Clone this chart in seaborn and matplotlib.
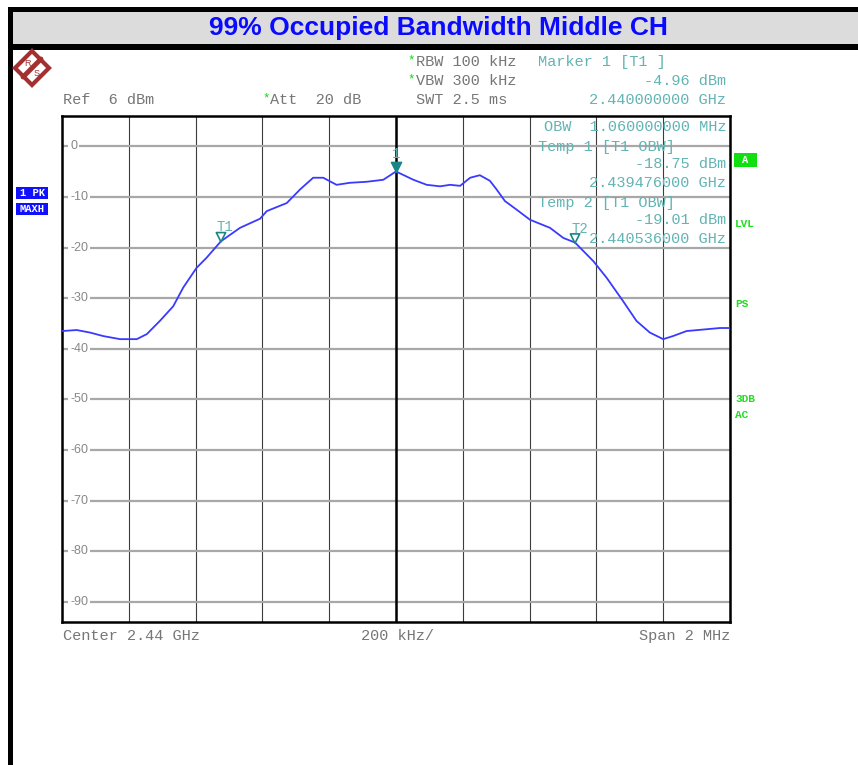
import numpy as np
import matplotlib
matplotlib.use("Agg")
import matplotlib.pyplot as plt
import matplotlib.transforms as mtransforms
from matplotlib.patches import Rectangle, Polygon
import seaborn as sns

# trace: offset from centre (MHz) and level (dBm)
offset_mhz = [-1.0, -0.956, -0.916, -0.876, -0.826, -0.776, -0.746, -0.707, -0.667,
              -0.637, -0.597, -0.567, -0.524, -0.467, -0.407, -0.387, -0.327, -0.287,
              -0.248, -0.218, -0.178, -0.138, -0.088, -0.038, 0.0, 0.052, 0.092,
              0.132, 0.162, 0.192, 0.222, 0.251, 0.281, 0.301, 0.326, 0.361, 0.401,
              0.461, 0.501, 0.536, 0.591, 0.631, 0.680, 0.720, 0.760, 0.800, 0.829,
              0.870, 0.920, 0.970, 1.0]
level_dbm = [-36.5, -36.3, -36.8, -37.5, -38.1, -38.1, -37.1, -34.5, -31.6,
             -27.9, -24.0, -22.0, -18.75, -16.1, -14.3, -12.8, -11.2, -8.5,
             -6.2, -6.2, -7.6, -7.2, -7.0, -6.6, -4.96, -6.6, -7.6,
             -7.9, -7.6, -7.8, -6.2, -5.7, -6.8, -8.5, -10.8, -12.5, -14.5,
             -16.1, -18.1, -19.01, -22.7, -26.0, -30.6, -34.5, -36.8, -38.1, -37.5,
             -36.5, -36.2, -35.9, -35.9]

center_ghz = 2.44
span_ghz = 0.002
ref_level = 6
y_labels = [0, -10, -20, -30, -40, -50, -60, -70, -80, -90]

# markers
marker_names = ["1", "T1", "T2"]
marker_freq = [2.440000, 2.439476, 2.440536]
marker_level = [-4.96, -18.75, -19.01]

title = "99% Occupied Bandwidth Middle CH"

W, H = 858, 765
def px(x, y):
    return x / W, 1 - y / H

freq = [center_ghz + o / 1000 for o in offset_mhz]

sns.set_style("white")
plt.rcParams["font.family"] = ["Liberation Sans", "DejaVu Sans"]

fig = plt.figure(figsize=(W / 100, H / 100), dpi=100)
fig.patch.set_facecolor("white")

# frame and title band
fig.add_artist(Rectangle(px(8, 765), 5 / W, 758 / H, transform=fig.transFigure, color="black", lw=0))
fig.add_artist(Rectangle(px(8, 12), 850 / W, 5 / H, transform=fig.transFigure, color="black", lw=0))
fig.add_artist(Rectangle(px(13, 44), 845 / W, 32 / H, transform=fig.transFigure, color="#dcdcdc", lw=0))
fig.add_artist(Rectangle(px(8, 50), 850 / W, 6 / H, transform=fig.transFigure, color="black", lw=0))
fig.text(*px(438, 28), title, ha="center", va="center", fontsize=19,
         fontweight="bold", color="#0a0aff")

# R&S logo
red = "#a33030"
cx, cy, r = 32, 68, 17
diamond = [px(cx, cy - r), px(cx + r, cy), px(cx, cy + r), px(cx - r, cy)]
fig.add_artist(Polygon(diamond, closed=True, transform=fig.transFigure,
                       fill=False, edgecolor=red, lw=3))
a, b = px(cx + 9, cy - 9), px(cx - 9, cy + 9)
fig.add_artist(plt.Line2D([a[0], b[0]], [a[1], b[1]], transform=fig.transFigure,
                          color=red, lw=3.5))
fig.text(*px(cx - 5, cy - 5), "R", fontsize=6.5, color=red, ha="center", va="center")
fig.text(*px(cx + 5, cy + 5), "S", fontsize=6.5, color=red, ha="center", va="center")

ax = fig.add_axes([62 / W, 1 - 622 / H, 668 / W, 506 / H])

sns.lineplot(x=freq, y=level_dbm, ax=ax, color="#3a3aff", lw=1.3, zorder=5)

ax.set_xlim(center_ghz - span_ghz / 2, center_ghz + span_ghz / 2)
ax.set_ylim(ref_level - 100, ref_level)
ax.set_xticks(np.linspace(center_ghz - span_ghz / 2, center_ghz + span_ghz / 2, 11))
ax.set_yticks([])
ax.tick_params(length=0, labelbottom=False, labelleft=False)
ax.grid(True, axis="x", color="#3c3c3c", lw=0.8)
ax.axvline(center_ghz, color="black", lw=1.8, zorder=3)
for s in ax.spines.values():
    s.set_color("black")
    s.set_linewidth(1.8)

trans_lbl = mtransforms.blended_transform_factory(ax.transAxes, ax.transData)
for yv in y_labels:
    ax.axhline(yv, color="#a8a8a8", lw=1.6, zorder=1)
    ax.text(0.012, yv, str(yv), transform=trans_lbl, ha="left", va="center",
            fontsize=9, color="#888888", zorder=2,
            bbox=dict(facecolor="white", edgecolor="none", pad=1.2))

# markers
teal = "#62b4b4"
up = mtransforms.offset_copy(ax.transData, fig=fig, y=4, units="dots")
ax.scatter([marker_freq[0]], [marker_level[0]], marker="v", s=55, color="#1a8585",
           transform=up, zorder=6)
ax.annotate(marker_names[0], (marker_freq[0], marker_level[0]), xytext=(0, 17),
            textcoords="offset pixels", ha="center", va="center", fontsize=10,
            color=teal, family="Liberation Mono")
for name, f, lv, dx in zip(marker_names[1:], marker_freq[1:], marker_level[1:], [4, 5]):
    ax.scatter([f], [lv], marker="v", s=45, facecolor="none", edgecolor="#1a8585",
               lw=1.2, transform=up, zorder=6)
    ax.annotate(name, (f, lv), xytext=(dx, 14), textcoords="offset pixels",
                ha="center", va="center", fontsize=10, color=teal,
                family="Liberation Mono")

mono = dict(family="Liberation Mono", fontsize=11, va="center")
gray = "#767676"
green = "#10d810"

fig.text(*px(63, 100), "Ref  6 dBm", color=gray, **mono)
fig.text(*px(262, 98), "*", color=green, family="Liberation Mono", fontsize=9, va="center")
fig.text(*px(270, 100), "Att  20 dB", color=gray, **mono)
fig.text(*px(407, 60), "*", color=green, family="Liberation Mono", fontsize=9, va="center")
fig.text(*px(407, 79), "*", color=green, family="Liberation Mono", fontsize=9, va="center")
fig.text(*px(416, 62), "RBW 100 kHz", color=gray, **mono)
fig.text(*px(416, 81), "VBW 300 kHz", color=gray, **mono)
fig.text(*px(416, 100), "SWT 2.5 ms", color=gray, **mono)

fig.text(*px(538, 62), "Marker 1 [T1 ]", color=teal, **mono)
fig.text(*px(726, 81), "%.2f dBm" % marker_level[0], color=teal, ha="right", **mono)
fig.text(*px(726, 100), "%.9f GHz" % marker_freq[0], color=teal, ha="right", **mono)
fig.text(*px(726, 127), "OBW  1.060000000 MHz", color=teal, ha="right", **mono)
fig.text(*px(538, 147), "Temp 1 [T1 OBW]", color=teal, **mono)
fig.text(*px(726, 164), "%.2f dBm" % marker_level[1], color=teal, ha="right", **mono)
fig.text(*px(726, 183), "%.9f GHz" % marker_freq[1], color=teal, ha="right", **mono)
fig.text(*px(538, 203), "Temp 2 [T1 OBW]", color=teal, **mono)
fig.text(*px(726, 220), "%.2f dBm" % marker_level[2], color=teal, ha="right", **mono)
fig.text(*px(726, 239), "%.9f GHz" % marker_freq[2], color=teal, ha="right", **mono)

fig.text(*px(63, 636), "Center 2.44 GHz", color=gray, **mono)
fig.text(*px(361, 636), "200 kHz/", color=gray, **mono)
fig.text(*px(730, 636), "Span 2 MHz", color=gray, ha="right", **mono)

# side annotations
badge = dict(family="Liberation Mono", fontsize=7.5, fontweight="bold",
             color="white", ha="center", va="center")
for label, y0 in [("1 PK", 187), ("MAXH", 203)]:
    fig.add_artist(Rectangle(px(16, y0 + 12), 32 / W, 12 / H,
                             transform=fig.transFigure, color="#1010ff", lw=0))
    fig.text(*px(32, y0 + 6), label, **badge)
fig.add_artist(Rectangle(px(734, 167), 23 / W, 14 / H,
                         transform=fig.transFigure, color="#10e010", lw=0))
fig.text(*px(745.5, 160), "A", **badge)
for label, y0 in [("LVL", 224), ("PS", 304), ("3DB", 399), ("AC", 415)]:
    fig.text(*px(735, y0), label, family="Liberation Mono", fontsize=8,
             fontweight="bold", color="#22dd22", va="center")

fig.savefig("out.png", dpi=100)
